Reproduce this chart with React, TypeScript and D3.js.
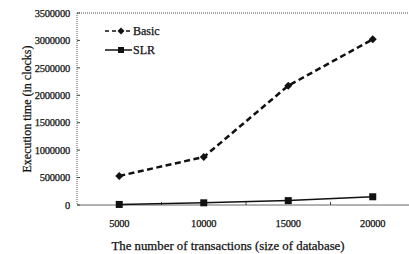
import React from "react";
import * as d3 from "d3";

const categories = ["5000", "10000", "15000", "20000"];
const basicValues = [530000, 875000, 2175000, 3020000];
const slrValues = [10000, 40000, 80000, 150000];
const yTicks = [0, 500000, 1000000, 1500000, 2000000, 2500000, 3000000, 3500000];

const W = 409, H = 254;
const L = 77, R = 415, T = 13, B = 205;

export default function App() {
  const x = d3.scaleBand().domain(categories).range([L, R]);
  const y = d3.scaleLinear().domain([0, 3500000]).range([B, T]);
  const cx = (c: string) => (x(c) as number) + x.bandwidth() / 2;
  const line = d3.line<number>().x((_, i) => cx(categories[i])).y((v) => y(v));
  const font = "'Liberation Serif', 'Times New Roman', serif";
  const txt = { fontFamily: font, fill: "#111", stroke: "#111", strokeWidth: 0.25 };
  const diamond = (px: number, py: number, s = 4) =>
    `M${px},${py - s}L${px + s},${py}L${px},${py + s}L${px - s},${py}Z`;
  return (
    <svg width={W} height={H} style={{ position: "absolute", left: 0, top: 0, background: "#fff" }}>
      {/* plot frame */}
      <line x1={L} y1={T} x2={W} y2={T} stroke="#555" strokeWidth={1} strokeDasharray="1,1" />
      <line x1={L} y1={T} x2={L} y2={B} stroke="#555" strokeWidth={1} strokeDasharray="1,1" />
      <line x1={L} y1={B} x2={W} y2={B} stroke="#666" strokeWidth={1} />
      {yTicks.map((t) => (
        <g key={t}>
          <line x1={L} x2={L + 3} y1={y(t)} y2={y(t)} stroke="#444" />
          <text x={70} y={y(t)} dy="0.35em" textAnchor="end" fontSize={10.5} {...txt} letterSpacing={-0.2}>
            {t}
          </text>
        </g>
      ))}
      {categories.slice(1).map((c) => (
        <line key={c} x1={x(c) as number} x2={x(c) as number} y1={B} y2={B - 3} stroke="#444" />
      ))}
      {categories.map((c) => (
        <text key={c} x={cx(c)} y={227} textAnchor="middle" fontSize={10.5} {...txt} letterSpacing={-0.2}>
          {c}
        </text>
      ))}
      <text x={228} y={250} textAnchor="middle" fontSize={12.8} {...txt}>
        The number of transactions (size of database)
      </text>
      <text
        transform={`translate(31,${(T + B) / 2}) rotate(-90)`}
        textAnchor="middle"
        fontSize={12}
        {...txt}
      >
        Execution time (in clocks)
      </text>
      {/* series */}
      <path d={line(basicValues) as string} fill="none" stroke="#111" strokeWidth={2.5} strokeDasharray="6,3.5" />
      {basicValues.map((v, i) => (
        <path key={i} d={diamond(cx(categories[i]), y(v))} fill="#111" />
      ))}
      <path d={line(slrValues) as string} fill="none" stroke="#111" strokeWidth={1.5} />
      {slrValues.map((v, i) => (
        <rect key={i} x={cx(categories[i]) - 3.5} y={y(v) - 3.5} width={7} height={7} fill="#111" />
      ))}
      {/* legend */}
      <line x1={105} x2={132} y1={31} y2={31} stroke="#111" strokeWidth={1.5} strokeDasharray="4,3" />
      <path d={diamond(121, 31, 3.5)} fill="#111" />
      <text x={133} y={31} dy="0.35em" fontSize={12} {...txt}>Basic</text>
      <line x1={105} x2={132} y1={50} y2={50} stroke="#111" strokeWidth={1.5} />
      <rect x={118} y={47} width={6} height={6} fill="#111" />
      <text x={133} y={50} dy="0.35em" fontSize={12} {...txt}>SLR</text>
    </svg>
  );
}
